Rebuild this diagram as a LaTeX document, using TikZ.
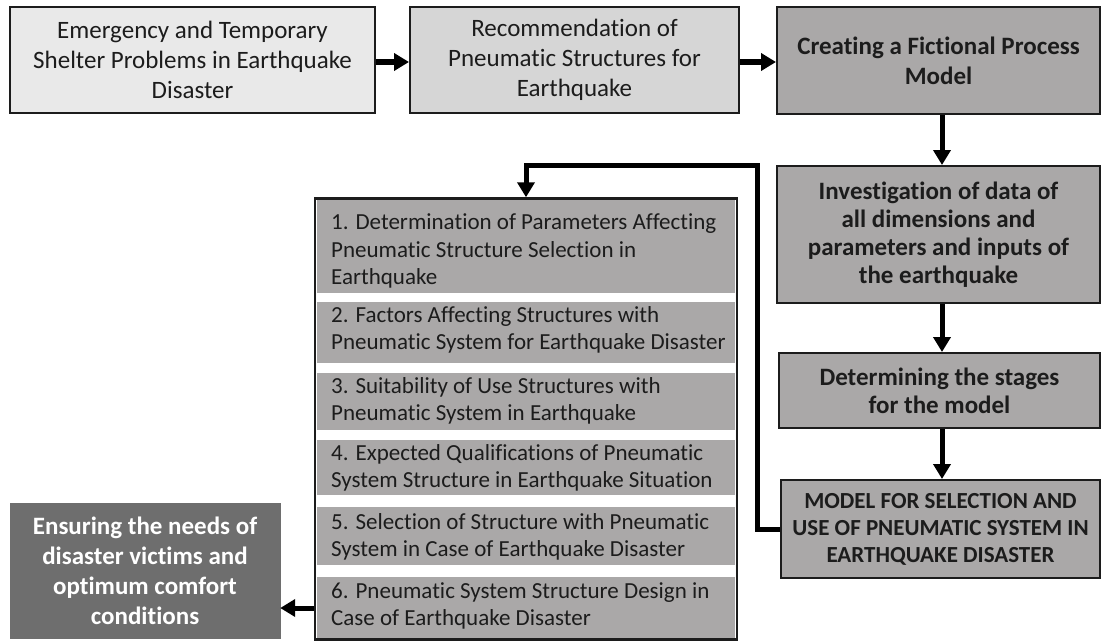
\documentclass[tikz,border=0pt]{standalone}
\usepackage{fontspec}
\setmainfont{Carlito}[Ligatures=NoCommon]
\usetikzlibrary{arrows.meta,calc}
\definecolor{fillA}{HTML}{E9E9E9}
\definecolor{fillB}{HTML}{D6D6D6}
\definecolor{fillC}{HTML}{AAA8A8}
\definecolor{fillD}{HTML}{6E6E6E}
\definecolor{ink}{HTML}{1C1C1C}
\begin{document}
\begin{tikzpicture}[x=1pt,y=-1pt,
  box/.style={draw=ink,line width=2pt,rectangle,inner sep=0pt,align=center,text=ink},
  topfont/.style={font=\fontsize{25}{30}\selectfont},
  boldfont/.style={font=\fontsize{25}{28}\selectfont\bfseries},
  itemfont/.style={font=\fontsize{23}{27.5}\selectfont},
  item/.style={itemfont,anchor=west,align=left,inner sep=0pt,text=ink},
  arr/.style={draw=black,line width=5pt,-{Triangle[width=17pt,length=15pt]}}]
\useasboundingbox (0,0) rectangle (1102,642);

% top row
\node[box,topfont,fill=fillA,minimum width=365pt,minimum height=106pt] (b1) at (192.5,60)
  {Emergency and Temporary\\Shelter Problems in Earthquake\\Disaster};
\node[box,topfont,fill=fillB,minimum width=329pt,minimum height=106pt] (b2) at (574.5,60)
  {Recommendation of\\Pneumatic Structures for\\Earthquake};
\node[box,font=\fontsize{25}{30}\selectfont\bfseries,fill=fillC,minimum width=323pt,minimum height=107pt] (b3) at (938.5,60.5)
  {Creating a Fictional Process\\Model};

% right column
\node[box,boldfont,fill=fillC,minimum width=323pt,minimum height=137pt] (b4) at (938.5,234.5)
  {Investigation of data of\\all dimensions and\\parameters and inputs of\\the earthquake};
\node[box,boldfont,fill=fillC,minimum width=321pt,minimum height=75pt] (b5) at (939.5,390.5)
  {Determining the stages\\for the model};
\node[box,font=\fontsize{23}{27}\selectfont\bfseries,fill=fillC,minimum width=319pt,minimum height=98pt] (b6) at (940.5,529)
  {MODEL FOR SELECTION AND\\USE OF PNEUMATIC SYSTEM IN\\EARTHQUAKE DISASTER};

% list box bands
\fill[fillC] (317,200) rectangle (735,293);
\fill[fillC] (317,302) rectangle (735,363);
\fill[fillC] (317,373) rectangle (735,430);
\fill[fillC] (317,440) rectangle (735,495);
\fill[fillC] (317,507) rectangle (735,565);
\fill[fillC] (317,577) rectangle (735,638);
\node[draw=ink,line width=2.5pt,rectangle,inner sep=0pt,minimum width=422pt,minimum height=441pt] (lst) at (526,419) {};
\node[item] (i1) at (331,251) {1. Determination of Parameters Affecting\\Pneumatic Structure Selection in\\Earthquake};
\node[item] (i2) at (331,330) {2. Factors Affecting Structures with\\Pneumatic System for Earthquake Disaster};
\node[item] (i3) at (331,401) {3. Suitability of Use Structures with\\Pneumatic System in Earthquake};
\node[item] (i4) at (331,468) {4. Expected Qualifications of Pneumatic\\System Structure in Earthquake Situation};
\node[item] (i5) at (331,537) {5. Selection of Structure with Pneumatic\\System in Case of Earthquake Disaster};
\node[item] (i6) at (331,606) {6. Pneumatic System Structure Design in\\Case of Earthquake Disaster};

% bottom-left result
\node[rectangle,fill=fillD,draw=fillD,inner sep=0pt,align=center,text=white,
  font=\fontsize{25}{30}\selectfont\bfseries,minimum width=270pt,minimum height=135pt] (bl) at (145,570.5)
  {Ensuring the needs of\\disaster victims and\\optimum comfort\\conditions};

% connectors
\draw[arr] (b1.east |- 0,62) -- (b2.west |- 0,62);
\draw[arr] (b2.east |- 0,62) -- (b3.west |- 0,62);
\draw[arr] (b3.south -| 942,0) -- (b4.north -| 942,0);
\draw[arr] (b4.south -| 942,0) -- (b5.north -| 942,0);
\draw[arr] (b5.south -| 942,0) -- (b6.north -| 942,0);
\coordinate (fb) at (757,165);
\draw[arr] (b6.west) -| (fb) -- (fb -| lst.north) -- (lst.north);
\coordinate (a6) at (0,608);
\draw[arr] (lst.west |- a6) -- (bl.east |- a6);
\end{tikzpicture}
\end{document}
